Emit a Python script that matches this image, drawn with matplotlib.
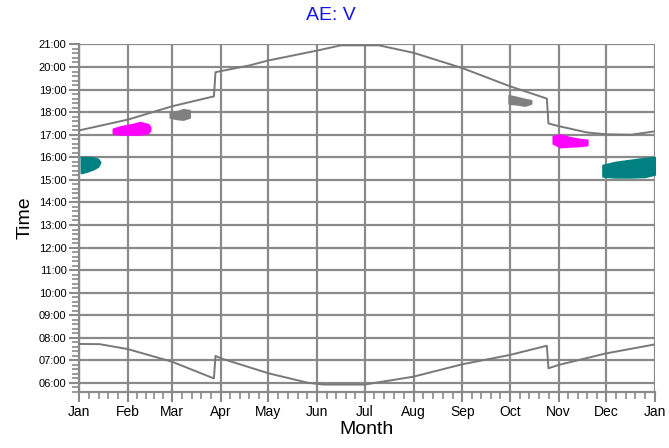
import numpy as np
import matplotlib.pyplot as plt
from matplotlib.ticker import FixedLocator, FuncFormatter, MultipleLocator

plt.rcParams['font.family'] = ['Liberation Sans', 'DejaVu Sans']

# month starts (day of year) and their labels
month_days = [0, 31, 59, 90, 120, 151, 181, 212, 243, 273, 304, 334, 365]
month_labels = ['Jan', 'Feb', 'Mar', 'Apr', 'May', 'Jun', 'Jul',
                'Aug', 'Sep', 'Oct', 'Nov', 'Dec', 'Jan']

# sunrise / sunset (hours, local time incl. DST shifts)
rise_day = [0, 13, 31, 59, 85.5, 86.5, 90, 120, 145, 155, 181, 212, 243, 273, 296.5, 297.5, 304, 334, 365]
rise_hr = [7.73, 7.72, 7.50, 6.94, 6.20, 7.20, 7.09, 6.43, 6.01, 5.93, 5.93, 6.28, 6.83, 7.24, 7.65, 6.65, 6.80, 7.31, 7.71]

set_day = [0, 31, 59, 85.5, 86.5, 90, 108, 120, 151, 166, 190, 212, 243, 273, 296.5, 297.5, 304, 322, 334, 350, 365]
set_hr = [17.19, 17.67, 18.26, 18.70, 19.77, 19.82, 20.07, 20.29, 20.73, 20.96, 20.96, 20.63, 19.95, 19.15, 18.60, 17.50, 17.38, 17.10, 17.02, 17.00, 17.15]

# observation clusters: day, lower and upper time bound
teal_jan_day = [1.3, 5, 9, 12, 13.3]
teal_jan_lo = [15.31, 15.38, 15.48, 15.60, 15.78]
teal_jan_hi = [16.00, 16.00, 15.98, 15.92, 15.78]

mag_feb_day = [21.6, 27, 34, 38.6, 43.7, 45]
mag_feb_lo = [17.06, 17.02, 17.02, 17.02, 17.08, 17.20]
mag_feb_hi = [17.26, 17.37, 17.46, 17.55, 17.46, 17.34]

gray_mar_day = [57.7, 62.7, 66, 70]
gray_mar_lo = [17.77, 17.70, 17.68, 17.77]
gray_mar_hi = [18.01, 18.04, 18.12, 18.08]

gray_oct_day = [272.4, 278, 282.6, 286.4]
gray_oct_lo = [18.39, 18.35, 18.30, 18.39]
gray_oct_hi = [18.74, 18.65, 18.57, 18.52]

mag_nov_day = [300.4, 305, 311, 317.5, 322]
mag_nov_lo = [16.62, 16.46, 16.49, 16.51, 16.55]
mag_nov_hi = [16.93, 17.00, 16.88, 16.80, 16.77]

teal_dec_day = [331.9, 339.6, 349, 358.6, 365]
teal_dec_lo = [15.16, 15.12, 15.12, 15.14, 15.25]
teal_dec_hi = [15.65, 15.78, 15.87, 15.96, 16.00]

grid_c = '#8a8a8a'
line_c = '#787878'
teal = '#008080'
magenta = '#ff00ff'
gray = '#808080'

fig = plt.figure(figsize=(6.69, 4.48), dpi=100)
ax = fig.add_axes([0.1181, 0.125, 0.979 - 0.1181, 0.9018 - 0.125])

ax.plot(rise_day, rise_hr, color=line_c, lw=1.4, zorder=3)
ax.plot(set_day, set_hr, color=line_c, lw=1.4, zorder=3)

blobs = [
    (teal_jan_day, teal_jan_lo, teal_jan_hi, teal),
    (mag_feb_day, mag_feb_lo, mag_feb_hi, magenta),
    (gray_mar_day, gray_mar_lo, gray_mar_hi, gray),
    (gray_oct_day, gray_oct_lo, gray_oct_hi, gray),
    (mag_nov_day, mag_nov_lo, mag_nov_hi, magenta),
    (teal_dec_day, teal_dec_lo, teal_dec_hi, teal),
]
for d, lo, hi, c in blobs:
    ax.fill_between(d, lo, hi, color=c, lw=1.5, edgecolor=c, zorder=4)

ax.set_xlim(0, 365)
ax.set_ylim(5.6, 21.02)

ax.xaxis.set_major_locator(FixedLocator(month_days))
ax.set_xticklabels(month_labels, fontsize=10)
minor_x = []
for a, b in zip(month_days[:-1], month_days[1:]):
    minor_x += list(np.linspace(a, b, 6)[1:-1])
ax.xaxis.set_minor_locator(FixedLocator(minor_x))

ax.yaxis.set_major_locator(FixedLocator(range(6, 22)))
ax.yaxis.set_major_formatter(FuncFormatter(lambda v, p: f'{int(round(v)):02d}:00'))
ax.yaxis.set_minor_locator(MultipleLocator(0.2))
ax.tick_params(axis='y', labelsize=8)

ax.tick_params(which='major', length=7, width=1.5, color=grid_c, pad=2)
ax.tick_params(which='minor', length=5, width=1.2, color=grid_c)

ax.grid(True, which='major', color=grid_c, lw=1.6, zorder=1)
ax.set_axisbelow(True)
for s in ['top', 'right']:
    ax.spines[s].set_visible(False)
for s in ['left', 'bottom']:
    ax.spines[s].set_color(grid_c)
    ax.spines[s].set_linewidth(1.6)

ax.set_xlabel('Month', fontsize=14, labelpad=2)
ax.set_ylabel('Time', fontsize=14, labelpad=4)
fig.text(0.495, 0.965, 'AE: V', ha='center', va='center', fontsize=14, color='#1414f0')

fig.savefig('out.png', dpi=100)
